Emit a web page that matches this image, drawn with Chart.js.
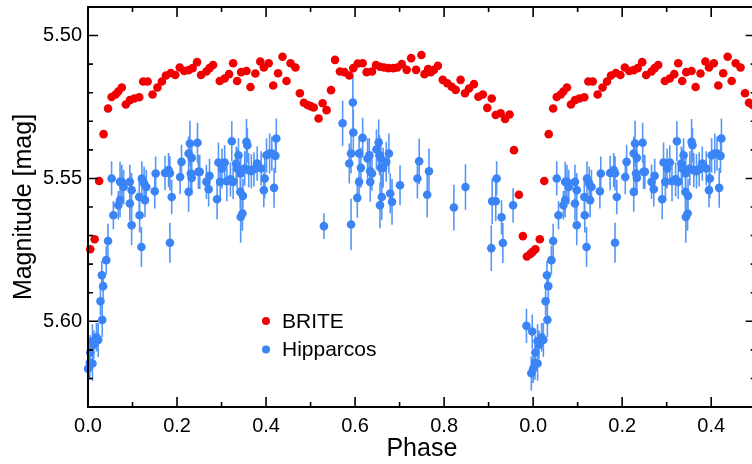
<!DOCTYPE html>
<html lang="en">
<head>
<meta charset="utf-8">
<title>BRITE / Hipparcos phased light curve</title>
<script src="https://cdn.jsdelivr.net/npm/chart.js@4.4.1/dist/chart.umd.min.js"></script>
<style>
    html, body { margin: 0; padding: 0; background: #fff; overflow: hidden; }
    #wrap { width: 752px; height: 464px; overflow: hidden; }
    canvas { display: block; }
</style>
</head>
<body>
<!-- canvas is a little wider than the window: the plot's right edge sits just outside the picture -->
<div id="wrap"><canvas id="lc" width="760" height="464"></canvas></div>
<script>
/**
 * Phased light curve: BRITE (red) and Hipparcos (blue, with error bars).
 * Points are stored once for phase -0.02..1.0 and shown again at phase+1.
 */

// BRITE photometry
const britePhase = [
    0.005, 0.015, 0.025, 0.035, 0.045, 0.053, 0.062, 0.068, 0.076, 0.085,
    0.094, 0.104, 0.115, 0.124, 0.134, 0.145, 0.156, 0.166, 0.175, 0.186,
    0.196, 0.206, 0.216, 0.226, 0.235, 0.245, 0.254, 0.266, 0.273, 0.281,
    0.296, 0.307, 0.317, 0.326, 0.335, 0.344, 0.356, 0.365, 0.376, 0.387,
    0.395, 0.406, 0.416, 0.427, 0.437, 0.446, 0.455, 0.466, 0.476, 0.485,
    0.493, 0.500, 0.507, 0.518, 0.527, 0.536, 0.546, 0.555, 0.566, 0.576,
    0.587, 0.596, 0.606, 0.617, 0.626, 0.638, 0.647, 0.656, 0.665, 0.675,
    0.686, 0.695, 0.705, 0.716, 0.726, 0.737, 0.749, 0.756, 0.764, 0.770,
    0.777, 0.786, 0.797, 0.807, 0.817, 0.826, 0.837, 0.847, 0.856, 0.867,
    0.877, 0.887, 0.897, 0.907, 0.916, 0.927, 0.937, 0.947, 0.957, 0.968,
    0.977, 0.986, 0.994, 0.999
];
const briteMag = [
    5.5748, 5.5713, 5.5509, 5.5345, 5.5255, 5.5215, 5.5206, 5.5196, 5.5182, 5.5241,
    5.5226, 5.5220, 5.5216, 5.5161, 5.5161, 5.5206, 5.5182, 5.5161, 5.5140, 5.5131,
    5.5138, 5.5112, 5.5124, 5.5121, 5.5114, 5.5093, 5.5138, 5.5126, 5.5114, 5.5103,
    5.5159, 5.5150, 5.5135, 5.5097, 5.5159, 5.5128, 5.5124, 5.5180, 5.5133, 5.5091,
    5.5112, 5.5097, 5.5175, 5.5132, 5.5074, 5.5159, 5.5097, 5.5112, 5.5202, 5.5235,
    5.5243, 5.5247, 5.5252, 5.5290, 5.5237, 5.5261, 5.5191, 5.5085, 5.5126, 5.5128,
    5.5140, 5.5114, 5.5098, 5.5097, 5.5128, 5.5126, 5.5103, 5.5109, 5.5112, 5.5114,
    5.5114, 5.5112, 5.5100, 5.5120, 5.5079, 5.5120, 5.5068, 5.5135, 5.5117, 5.5128,
    5.5120, 5.5106, 5.5155, 5.5167, 5.5179, 5.5190, 5.5155, 5.5202, 5.5185, 5.5170,
    5.5214, 5.5206, 5.5253, 5.5220, 5.5278, 5.5272, 5.5292, 5.5276, 5.5401, 5.5557,
    5.5702, 5.5773, 5.5764, 5.5757
];

// Hipparcos photometry (err = half length of the error bar, mag)
const hipPhase = [
    0.000, 0.004, 0.005, 0.010, 0.010, 0.013, 0.019, 0.023, 0.028, 0.031,
    0.032, 0.034, 0.041, 0.045, 0.053, 0.057, 0.068, 0.072, 0.072, 0.076,
    0.080, 0.094, 0.098, 0.094, 0.098, 0.115, 0.116, 0.120, 0.121, 0.126,
    0.128, 0.131, 0.150, 0.152, 0.173, 0.181, 0.184, 0.184, 0.188, 0.207,
    0.210, 0.226, 0.226, 0.229, 0.233, 0.231, 0.233, 0.246, 0.248, 0.251,
    0.266, 0.273, 0.271, 0.290, 0.293, 0.297, 0.301, 0.307, 0.312, 0.320,
    0.323, 0.326, 0.333, 0.335, 0.338, 0.342, 0.343, 0.343, 0.347, 0.348,
    0.352, 0.356, 0.358, 0.361, 0.367, 0.373, 0.380, 0.389, 0.395, 0.397,
    0.401, 0.408, 0.413, 0.418, 0.421, 0.423, 0.530, 0.572, 0.587, 0.591,
    0.591, 0.595, 0.596, 0.605, 0.609, 0.609, 0.613, 0.617, 0.628, 0.632,
    0.634, 0.634, 0.638, 0.648, 0.653, 0.655, 0.658, 0.656, 0.660, 0.658,
    0.663, 0.670, 0.676, 0.679, 0.683, 0.701, 0.740, 0.744, 0.762, 0.766,
    0.822, 0.848, 0.906, 0.908, 0.916, 0.918, 0.929, 0.932, 0.955, 0.985,
    0.996, 0.998
];
const hipMag = [
    5.6166, 5.6145, 5.6109, 5.6148, 5.6070, 5.6082, 5.6056, 5.6065, 5.5930, 5.5839,
    5.5995, 5.5877, 5.5786, 5.5719, 5.5500, 5.5629, 5.5594, 5.5576, 5.5512, 5.5512,
    5.5530, 5.5512, 5.5541, 5.5588, 5.5664, 5.5565, 5.5629, 5.5740, 5.5500, 5.5518,
    5.5576, 5.5530, 5.5545, 5.5483, 5.5481, 5.5471, 5.5482, 5.5725, 5.5565, 5.5495,
    5.5442, 5.5547, 5.5413, 5.5378, 5.5428, 5.5483, 5.5498, 5.5375, 5.5477, 5.5477,
    5.5512, 5.5491, 5.5538, 5.5573, 5.5444, 5.5512, 5.5465, 5.5444, 5.5510, 5.5503,
    5.5370, 5.5512, 5.5448, 5.5465, 5.5419, 5.5547, 5.5483, 5.5635, 5.5623, 5.5561,
    5.5465, 5.5372, 5.5384, 5.5471, 5.5475, 5.5468, 5.5448, 5.5465, 5.5541, 5.5500,
    5.5419, 5.5413, 5.5413, 5.5533, 5.5421, 5.5360, 5.5667, 5.5307, 5.5448, 5.5661,
    5.5413, 5.5234, 5.5339, 5.5568, 5.5512, 5.5413, 5.5463, 5.5358, 5.5430, 5.5419,
    5.5475, 5.5512, 5.5483, 5.5399, 5.5374, 5.5419, 5.5430, 5.5594, 5.5565, 5.5463,
    5.5463, 5.5442, 5.5413, 5.5553, 5.5582, 5.5524, 5.5500, 5.5440, 5.5557, 5.5475,
    5.5602, 5.5530, 5.5744, 5.5580, 5.5580, 5.5500, 5.5636, 5.5726, 5.5594, 5.6016,
    5.6182, 5.6036
];
const hipErr = [
    0.005, 0.006, 0.006, 0.006, 0.006, 0.005, 0.005, 0.006, 0.005, 0.005,
    0.006, 0.005, 0.005, 0.006, 0.006, 0.005, 0.005, 0.006, 0.007, 0.006,
    0.006, 0.006, 0.006, 0.006, 0.007, 0.006, 0.006, 0.007, 0.006, 0.006,
    0.006, 0.006, 0.006, 0.006, 0.006, 0.006, 0.006, 0.007, 0.006, 0.006,
    0.006, 0.007, 0.006, 0.008, 0.006, 0.006, 0.006, 0.007, 0.006, 0.006,
    0.006, 0.006, 0.006, 0.007, 0.007, 0.006, 0.007, 0.006, 0.007, 0.006,
    0.007, 0.006, 0.006, 0.007, 0.006, 0.006, 0.006, 0.009, 0.006, 0.006,
    0.006, 0.008, 0.006, 0.006, 0.006, 0.006, 0.006, 0.006, 0.006, 0.007,
    0.006, 0.007, 0.006, 0.007, 0.006, 0.007, 0.0045, 0.008, 0.007, 0.009,
    0.007, 0.009, 0.008, 0.007, 0.007, 0.006, 0.007, 0.007, 0.007, 0.006,
    0.007, 0.007, 0.006, 0.007, 0.008, 0.007, 0.007, 0.008, 0.008, 0.007,
    0.007, 0.007, 0.007, 0.007, 0.008, 0.007, 0.007, 0.008, 0.008, 0.008,
    0.008, 0.008, 0.008, 0.008, 0.007, 0.006, 0.006, 0.007, 0.006, 0.006,
    0.006, 0.006
];

// axes
const X_MIN = 0, X_MAX = 1.5;
const Y_MIN = 5.49, Y_MAX = 5.63;
const xTicks = [0, 0.2, 0.4, 0.6, 0.8, 1.0, 1.2, 1.4];
const xTickLabels = ['0.0', '0.2', '0.4', '0.6', '0.8', '0.0', '0.2', '0.4'];
const yTicks = [5.50, 5.55, 5.60];
const yTickLabels = ['5.50', '5.55', '5.60'];

const RED = '#f00000';
const BLUE = '#3a84f6';
const BLUE_BAR = '#5597f8';
const FONT = '"Liberation Sans", Arial, Helvetica, sans-serif';

/**
 * Puts each observation at its phase and at phase + 1,
 * keeping only what falls inside the x range.
 */
function foldPoints(phases, mags, errs) {
    const out = [];
    [0, 1].forEach(shift => {
        phases.forEach((p, i) => {
            const x = p + shift;
            if (x < X_MIN || x > X_MAX) return;
            out.push({ x, y: mags[i], err: errs ? errs[i] : 0 });
        });
    });
    return out;
}

// vertical error bars, drawn under the markers
const errorBars = {
    id: 'errorBars',
    beforeDatasetsDraw(chart) {
        const { ctx, scales: { x, y } } = chart;
        chart.data.datasets.forEach(ds => {
            if (!ds.errorColor) return;
            ctx.save();
            ctx.strokeStyle = ds.errorColor;
            ctx.lineWidth = 1.6;
            ctx.beginPath();
            ds.data.forEach(pt => {
                const px = x.getPixelForValue(pt.x);
                ctx.moveTo(px, y.getPixelForValue(pt.y - pt.err));
                ctx.lineTo(px, y.getPixelForValue(pt.y + pt.err));
            });
            ctx.stroke();
            ctx.restore();
        });
    }
};

// closed frame with inward major/minor ticks on all four sides
const frameTicks = {
    id: 'frameTicks',
    afterDatasetsDraw(chart) {
        const { ctx, chartArea: a, scales: { x, y } } = chart;
        ctx.save();
        ctx.strokeStyle = '#000';
        ctx.lineWidth = 1.6;
        ctx.beginPath();
        for (let i = 0; i <= 15; i++) {
            const px = x.getPixelForValue(i / 10);
            const len = i % 2 === 0 ? 10 : 5;
            ctx.moveTo(px, a.bottom); ctx.lineTo(px, a.bottom - len);
            ctx.moveTo(px, a.top); ctx.lineTo(px, a.top + len);
        }
        for (let i = 549; i <= 563; i++) {
            const py = y.getPixelForValue(i / 100);
            const len = i % 5 === 0 ? 10 : 5;
            ctx.moveTo(a.left, py); ctx.lineTo(a.left + len, py);
            ctx.moveTo(a.right, py); ctx.lineTo(a.right - len, py);
        }
        ctx.stroke();
        ctx.lineWidth = 2;
        ctx.strokeRect(a.left, a.top, a.right - a.left, a.bottom - a.top);
        ctx.restore();
    }
};

// legend sitting inside the plot
const innerLegend = {
    id: 'innerLegend',
    afterDraw(chart, args, opts) {
        const { ctx } = chart;
        ctx.save();
        ctx.font = `${opts.fontSize}px ${FONT}`;
        ctx.textBaseline = 'middle';
        ctx.textAlign = 'left';
        chart.data.datasets.forEach((ds, i) => {
            const cy = opts.y + i * opts.rowGap;
            ctx.fillStyle = ds.backgroundColor;
            ctx.beginPath();
            ctx.arc(opts.x, cy, 4, 0, Math.PI * 2);
            ctx.fill();
            ctx.fillStyle = '#000';
            ctx.fillText(ds.label, opts.x + 16, cy + 1);
        });
        ctx.restore();
    }
};

new Chart(document.getElementById('lc'), {
    type: 'scatter',
    data: {
        datasets: [
            {
                label: 'BRITE',
                data: foldPoints(britePhase, briteMag),
                backgroundColor: RED,
                pointRadius: 4.3,
                pointBorderWidth: 0,
                clip: false
            },
            {
                label: 'Hipparcos',
                data: foldPoints(hipPhase, hipMag, hipErr),
                backgroundColor: BLUE,
                errorColor: BLUE_BAR,
                pointRadius: 4.3,
                pointBorderWidth: 0,
                clip: false
            }
        ]
    },
    options: {
        responsive: false,
        animation: false,
        events: [],
        layout: { padding: { top: 7, right: 0, left: 0, bottom: 0 } },
        plugins: {
            legend: { display: false },
            tooltip: { enabled: false },
            innerLegend: { x: 266, y: 321, rowGap: 28.6, fontSize: 21 }
        },
        scales: {
            x: {
                type: 'linear',
                min: X_MIN,
                max: X_MAX,
                grid: { display: false, drawTicks: false },
                border: { display: false },
                afterBuildTicks: s => { s.ticks = xTicks.map(v => ({ value: v })); },
                afterFit: s => {
                    s.height = 57;
                    s.paddingLeft = 0;
                    s.paddingRight = 0;
                },
                ticks: {
                    autoSkip: false,
                    maxRotation: 0,
                    padding: 7,
                    color: '#000',
                    font: { family: FONT, size: 20 },
                    callback: (v, i) => xTickLabels[i]
                },
                title: {
                    display: true,
                    text: 'Phase',
                    color: '#000',
                    padding: { top: 0, bottom: 0 },
                    font: { family: FONT, size: 25 }
                }
            },
            y: {
                type: 'linear',
                reverse: true,
                min: Y_MIN,
                max: Y_MAX,
                grid: { display: false, drawTicks: false },
                border: { display: false },
                afterBuildTicks: s => { s.ticks = yTicks.map(v => ({ value: v })); },
                afterFit: s => {
                    s.width = 88;
                    s.paddingTop = 0;
                    s.paddingBottom = 0;
                },
                ticks: {
                    autoSkip: false,
                    padding: 6,
                    color: '#000',
                    font: { family: FONT, size: 20 },
                    callback: (v, i) => yTickLabels[i]
                },
                title: {
                    display: true,
                    text: 'Magnitude [mag]',
                    color: '#000',
                    padding: { top: 9, bottom: 0 },
                    font: { family: FONT, size: 25 }
                }
            }
        }
    },
    plugins: [errorBars, frameTicks, innerLegend]
});
</script>
</body>
</html>
